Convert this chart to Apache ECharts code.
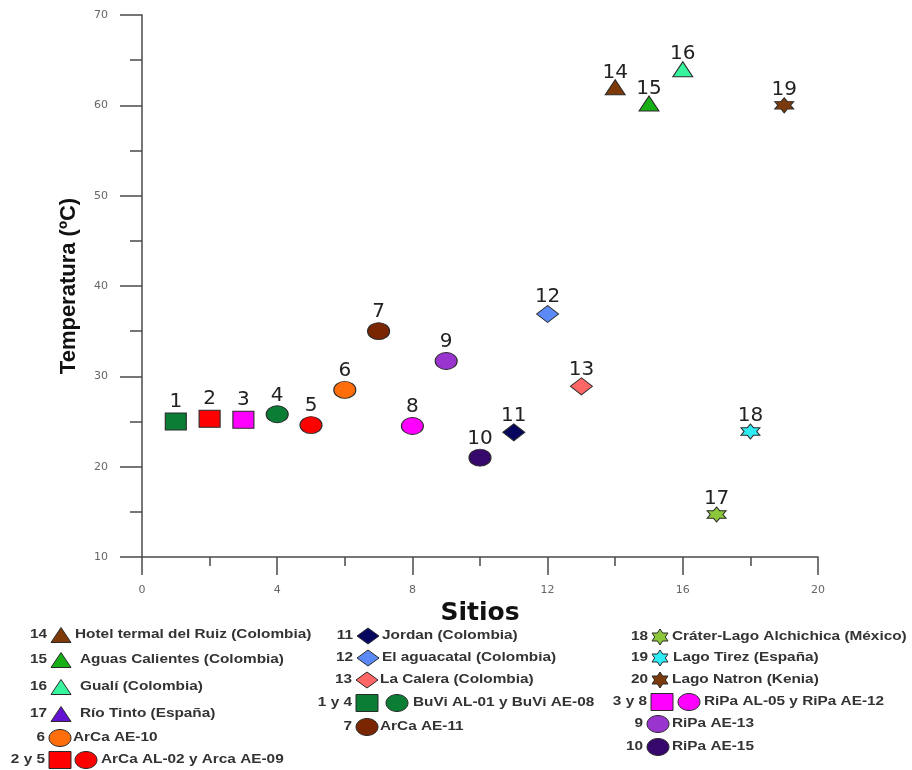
<!DOCTYPE html>
<html>
<head>
<meta charset="utf-8">
<script src="https://cdn.jsdelivr.net/npm/echarts@6/dist/echarts.min.js"></script>
<style>
  html, body { margin: 0; padding: 0; background: #ffffff; }
  #chart { width: 912px; height: 770px; }
</style>
</head>
<body>
<div id="chart"></div>
<script>
// Sitio de muestreo (eje X) y temperatura medida en °C (eje Y)
const sitios = [1, 2, 3, 4, 5, 6, 7, 8, 9, 10, 11, 12, 13, 14, 15, 16, 17, 18, 19];
const temperaturas = [25.0, 25.3, 25.2, 25.8, 24.6, 28.5, 35.0, 24.5, 31.7, 21.0, 23.8, 36.9, 28.9, 62.0, 60.2, 64.0, 14.7, 23.9, 60.0];
const etiquetas = ['1', '2', '3', '4', '5', '6', '7', '8', '9', '10', '11', '12', '13', '14', '15', '16', '17', '18', '19'];
const marcaPorSitio = [
  'cuadVerde', 'cuadRojo', 'cuadMagenta', 'circVerde', 'circRojo', 'circNaranja', 'circCafe',
  'circMagenta', 'circMorado', 'circVioleta', 'rombMarino', 'rombAzul', 'rombSalmon',
  'triCafe', 'triVerde', 'triMenta', 'estrOliva', 'estrCian', 'estrCafe'
];

// Ticks de los ejes
const ticksX = [0, 4, 8, 12, 16, 20];
const ticksY = [10, 20, 30, 40, 50, 60, 70];

// Leyenda: número, marcas y descripción
const leyendaNumeros = ['14', '15', '16', '17', '6', '2 y 5', '11', '12', '13', '1 y 4', '7', '18', '19', '20', '3 y 8', '9', '10'];
const leyendaMarcas = [
  ['triCafe'], ['triVerde'], ['triMenta'], ['triMorado'], ['circNaranja'], ['cuadRojo', 'circRojo'],
  ['rombMarino'], ['rombAzul'], ['rombSalmon'], ['cuadVerde', 'circVerde'], ['circCafe'],
  ['estrOliva'], ['estrCian'], ['estrCafe'], ['cuadMagenta', 'circMagenta'], ['circMorado'], ['circVioleta']
];
const leyendaTextos = [
  'Hotel termal del Ruiz (Colombia)', 'Aguas Calientes (Colombia)', 'Gualí (Colombia)', 'Río Tinto (España)',
  'ArCa AE-10', 'ArCa AL-02 y Arca AE-09',
  'Jordan (Colombia)', 'El aguacatal (Colombia)', 'La Calera (Colombia)', 'BuVi AL-01 y BuVi AE-08', 'ArCa AE-11',
  'Cráter-Lago Alchichica (México)', 'Lago Tirez (España)', 'Lago Natron (Kenia)', 'RiPa AL-05 y RiPa AE-12',
  'RiPa AE-13', 'RiPa AE-15'
];

// ---- estilos de marcas ----
const estilosMarca = {
  cuadVerde:   { forma: 'cuad', color: '#0b7d34' },
  cuadRojo:    { forma: 'cuad', color: '#ff0000' },
  cuadMagenta: { forma: 'cuad', color: '#ff00ff' },
  circVerde:   { forma: 'circ', color: '#0b7d34' },
  circRojo:    { forma: 'circ', color: '#ff0000' },
  circNaranja: { forma: 'circ', color: '#ff6e0a' },
  circCafe:    { forma: 'circ', color: '#7a2600' },
  circMagenta: { forma: 'circ', color: '#ff00ff' },
  circMorado:  { forma: 'circ', color: '#9a34cf' },
  circVioleta: { forma: 'circ', color: '#36086c' },
  rombMarino:  { forma: 'romb', color: '#06065e' },
  rombAzul:    { forma: 'romb', color: '#5b89f6' },
  rombSalmon:  { forma: 'romb', color: '#ff6666' },
  triCafe:     { forma: 'tri',  color: '#7d3a08' },
  triVerde:    { forma: 'tri',  color: '#16b016' },
  triMenta:    { forma: 'tri',  color: '#36f59c' },
  triMorado:   { forma: 'tri',  color: '#6412d2' },
  estrOliva:   { forma: 'estr', color: '#8cc63a' },
  estrCian:    { forma: 'estr', color: '#2eecf4' },
  estrCafe:    { forma: 'estr', color: '#7a3a0c' }
};
const tamanoSerie = { cuad: [21, 17], circ: [22, 17], romb: [22, 17], tri: [20, 15], estr: [19, 15] };
const distanciaEtiqueta = { cuad: 1, circ: 0, romb: -2, tri: -3, estr: -2 };
const tamanoLeyenda = { cuad: [22, 17], circ: [22, 17], romb: [22, 16], tri: [20, 15], estr: [16, 16] };
const BORDE = '#2a2a2a';

// Estrella de seis puntas, vértice superior arriba
function puntosEstrella(cx, cy, w, h) {
  const pts = [];
  const rx = w / 2 / Math.cos(Math.PI / 6), ry = h / 2;
  for (let k = 0; k < 12; k++) {
    const ang = -Math.PI / 2 + k * Math.PI / 6;
    const r = (k % 2 === 0) ? 1 : 0.577;
    pts.push([cx + Math.cos(ang) * r * rx, cy + Math.sin(ang) * r * ry]);
  }
  return pts;
}
function rutaEstrella() {
  const p = puntosEstrella(0, 0, 2 * Math.cos(Math.PI / 6), 2);
  return 'path://M' + p.map(q => q[0].toFixed(4) + ' ' + q[1].toFixed(4)).join(' L') + ' Z';
}
const simboloEchart = { cuad: 'rect', circ: 'circle', romb: 'diamond', tri: 'triangle', estr: rutaEstrella() };

// ---- datos de la serie ----
const datosSerie = sitios.map((x, i) => {
  const est = estilosMarca[marcaPorSitio[i]];
  return {
    value: [x, temperaturas[i]],
    name: etiquetas[i],
    symbol: simboloEchart[est.forma],
    symbolSize: tamanoSerie[est.forma],
    itemStyle: { color: est.color, borderColor: BORDE, borderWidth: 1, opacity: 1 },
    label: { distance: distanciaEtiqueta[est.forma] }
  };
});

// ---- leyenda dibujada con elementos gráficos ----
const posLeyenda = [
  { cx: 61, cy: 635, tx: 75 }, { cx: 61, cy: 660, tx: 80 }, { cx: 61, cy: 687, tx: 80 }, { cx: 61, cy: 714, tx: 80 },
  { cx: 60, cy: 738, tx: 73 }, { cx: 60, cy: 760, tx: 101, paso: 26 },
  { cx: 368, cy: 636, tx: 382 }, { cx: 368, cy: 658, tx: 382 }, { cx: 367, cy: 680, tx: 380 },
  { cx: 367, cy: 703, tx: 413, paso: 30 }, { cx: 367, cy: 727, tx: 380 },
  { cx: 660, cy: 637, tx: 672 }, { cx: 660, cy: 658, tx: 673 }, { cx: 660, cy: 680, tx: 672 },
  { cx: 662, cy: 702, tx: 704, paso: 27 }, { cx: 658, cy: 724, tx: 672 }, { cx: 658, cy: 747, tx: 672 }
];
const FUENTE_LEY = 'bold 12px "Liberation Sans", Arial, sans-serif';
const ESCALA_X = 1.28;

function figura(forma, color, cx, cy) {
  const [w, h] = tamanoLeyenda[forma];
  const style = { fill: color, stroke: BORDE, lineWidth: 1 };
  if (forma === 'cuad') return { type: 'rect', shape: { x: cx - w / 2, y: cy - h / 2, width: w, height: h }, style };
  if (forma === 'circ') return { type: 'ellipse', shape: { cx, cy, rx: w / 2, ry: h / 2 }, style };
  if (forma === 'tri') return { type: 'polygon', shape: { points: [[cx, cy - h / 2], [cx + w / 2, cy + h / 2], [cx - w / 2, cy + h / 2]] }, style };
  if (forma === 'romb') return { type: 'polygon', shape: { points: [[cx, cy - h / 2], [cx + w / 2, cy], [cx, cy + h / 2], [cx - w / 2, cy]] }, style };
  return { type: 'polygon', shape: { points: puntosEstrella(cx, cy, w, h) }, style };
}

const graficos = [];
leyendaNumeros.forEach((num, i) => {
  const p = posLeyenda[i];
  const marcas = leyendaMarcas[i];
  const primera = estilosMarca[marcas[0]];
  marcas.forEach((m, j) => {
    const est = estilosMarca[m];
    graficos.push(figura(est.forma, est.color, p.cx + j * (p.paso || 0), p.cy));
  });
  graficos.push({
    type: 'text', x: p.cx - tamanoLeyenda[primera.forma][0] / 2 - 4, y: p.cy, scaleX: ESCALA_X,
    style: { text: num, font: FUENTE_LEY, fill: '#333333', align: 'right', verticalAlign: 'middle' }
  });
  graficos.push({
    type: 'text', x: p.tx, y: p.cy, scaleX: ESCALA_X,
    style: { text: leyendaTextos[i], font: FUENTE_LEY, fill: '#333333', align: 'left', verticalAlign: 'middle' }
  });
});

const LINEA_EJE = { color: '#4a4a4a', width: 1.5 };

const chart = echarts.init(document.getElementById('chart'), null, { renderer: 'canvas' });
chart.setOption({
  animation: false,
  backgroundColor: '#ffffff',
  grid: { left: 142, right: 94, top: 15, bottom: 213 },
  xAxis: {
    type: 'value', min: ticksX[0], max: ticksX[ticksX.length - 1], interval: ticksX[1] - ticksX[0],
    name: 'Sitios', nameLocation: 'middle', nameGap: 40,
    nameTextStyle: { fontFamily: 'DejaVu Sans', fontWeight: 'bold', fontSize: 25, color: '#111' },
    axisLine: { show: true, onZero: false, lineStyle: LINEA_EJE },
    axisTick: { show: true, inside: false, length: 18, lineStyle: LINEA_EJE },
    minorTick: { show: true, splitNumber: 2, length: 9, lineStyle: LINEA_EJE },
    axisLabel: { margin: 28, fontFamily: 'DejaVu Sans', fontSize: 11, color: '#666666' },
    splitLine: { show: false }, minorSplitLine: { show: false }
  },
  yAxis: {
    type: 'value', min: ticksY[0], max: ticksY[ticksY.length - 1], interval: ticksY[1] - ticksY[0],
    name: 'Temperatura (ºC)', nameLocation: 'middle', nameGap: 62, nameRotate: 90,
    nameTextStyle: { fontFamily: 'Liberation Sans', fontWeight: 'bold', fontSize: 22, color: '#111' },
    axisLine: { show: true, onZero: false, lineStyle: LINEA_EJE },
    axisTick: { show: true, inside: false, length: 22, lineStyle: LINEA_EJE },
    minorTick: { show: true, splitNumber: 2, length: 12, lineStyle: LINEA_EJE },
    axisLabel: { margin: 34, fontFamily: 'DejaVu Sans', fontSize: 11, color: '#666666' },
    splitLine: { show: false }, minorSplitLine: { show: false }
  },
  series: [{
    type: 'scatter',
    data: datosSerie,
    label: {
      show: true, position: 'top',
      formatter: p => p.name,
      fontFamily: 'DejaVu Sans', fontSize: 20, color: '#222222'
    },
    z: 3
  }],
  graphic: graficos
});
</script>
</body>
</html>
